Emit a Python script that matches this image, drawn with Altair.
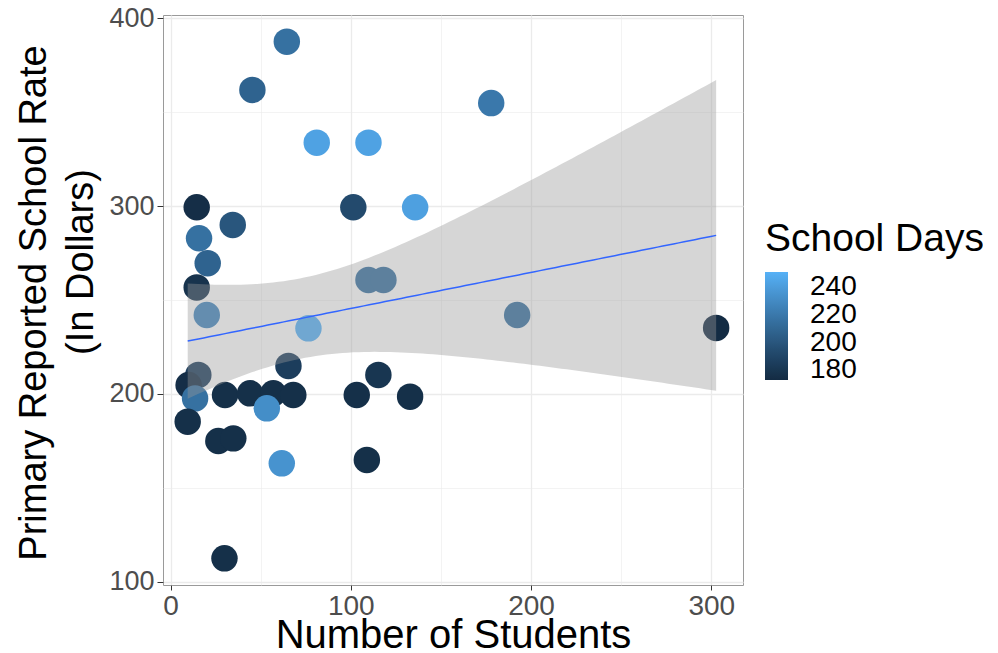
import altair as alt
import numpy as np
import pandas as pd

# ---- data ----
students = [64.5, 45.4, 81.1, 109.8, 14.5, 101.4, 135.7, 34.5, 15.8, 20.6,
            14.5, 109.8, 118.1, 20.1, 76.5, 65.4, 15.4, 10.0, 13.6, 30.2,
            44.1, 57.0, 68.1, 53.4, 103.3, 115.3, 132.9, 9.5, 26.5, 34.8,
            61.7, 108.9, 29.9, 177.9, 192.3, 302.7]
rate = [387.6, 361.9, 333.8, 333.8, 299.4, 299.4, 299.4, 290.0, 282.9, 269.6,
        256.7, 260.7, 260.7, 242.0, 234.9, 214.9, 210.1, 204.7, 197.6, 199.4,
        200.3, 200.3, 199.4, 192.3, 199.4, 210.1, 198.5, 185.2, 174.9, 176.3,
        163.0, 164.8, 112.4, 354.9, 242.0, 235.1]
days = [216, 208, 243, 243, 175, 193, 242, 200, 216, 208,
        178, 216, 216, 228, 251, 185, 185, 175, 216, 176,
        176, 176, 176, 232, 176, 180, 176, 176, 176, 176,
        235, 176, 176, 220, 216, 173]

x_ticks = [0, 50, 100, 150, 200, 250, 300]
y_ticks = [100, 150, 200, 250, 300, 350, 400]
legend_ticks = [180, 200, 220, 240]

points = pd.DataFrame({"students": students, "rate": rate, "days": days})

# ---- linear fit with 95% confidence band (like geom_smooth(method="lm")) ----
xv = np.array(students)
yv = np.array(rate)
n = len(xv)
b1, b0 = np.polyfit(xv, yv, 1)
xs = np.linspace(xv.min(), xv.max(), 100)
fit = b0 + b1 * xs
resid = yv - (b0 + b1 * xv)
s = np.sqrt((resid ** 2).sum() / (n - 2))
se = s * np.sqrt(1 / n + (xs - xv.mean()) ** 2 / ((xv - xv.mean()) ** 2).sum())
T975 = 2.032  # t quantile, df = 34
smooth = pd.DataFrame({"students": xs, "rate": fit,
                       "lo": fit - T975 * se, "hi": fit + T975 * se})

FONT = "Liberation Sans"

xscale = alt.Scale(domain=[-4.2, 317.6], nice=False, zero=False)
yscale = alt.Scale(domain=[98.2, 401.8], nice=False, zero=False)

grid_w = {"condition": {"test": "datum.value % 100 === 0", "value": 1.3}, "value": 0.6}
tick_op = {"condition": {"test": "datum.value % 100 === 0", "value": 1}, "value": 0}

x_axis = alt.Axis(
    values=x_ticks, labelExpr="datum.value % 100 === 0 ? datum.label : ''",
    grid=True, gridColor="#EBEBEB", gridWidth=grid_w, tickOpacity=tick_op,
    tickSize=5, tickColor="#333333", tickWidth=1, domain=False,
    labelFontSize=28, labelColor="#4D4D4D", labelPadding=2, labelFlush=False,
    labelOverlap=False, labelFont=FONT,
    titleFontSize=40, titleFontWeight="normal", titleColor="black", titleFont=FONT,
    titleBaseline="alphabetic", titleY=62,
)
y_axis = alt.Axis(
    values=y_ticks, labelExpr="datum.value % 100 === 0 ? datum.label : ''",
    grid=True, gridColor="#EBEBEB", gridWidth=grid_w, tickOpacity=tick_op,
    tickSize=6, tickColor="#333333", tickWidth=1, domain=False,
    labelFontSize=27, labelColor="#4D4D4D", labelPadding=3, labelFlush=False,
    labelOverlap=False, labelFont=FONT,
    titleFontSize=38, titleFontWeight="normal", titleColor="black", titleFont=FONT,
    titleBaseline="alphabetic", titleAlign="center", titleAngle=270,
    titleX=-118, titleY=287.5,
)

x_title = "Number of Students"
y_title = "Primary Reported School Rate"
y_title_line2 = "(In Dollars)"

pts = alt.Chart(points).mark_circle(size=700, opacity=1).encode(
    x=alt.X("students:Q", scale=xscale, axis=x_axis, title=x_title),
    y=alt.Y("rate:Q", scale=yscale, axis=y_axis, title=y_title),
    color=alt.Color(
        "days:Q",
        scale=alt.Scale(domain=[173, 251], range=["#132B43", "#56B1F7"], interpolate="lab"),
        legend=alt.Legend(
            title="School Days", values=legend_ticks, orient="none",
            legendX=602, legendY=205, direction="vertical",
            gradientLength=108, gradientThickness=23, gradientStrokeWidth=0,
            labelFontSize=28, labelColor="black", labelOffset=22, labelOverlap=False,
            labelFont=FONT, titleFont=FONT, titleLimit=400,
            titleFontSize=39, titleFontWeight="normal", titleColor="black",
            titlePadding=13, padding=0,
        ),
    ),
)

band = alt.Chart(smooth).mark_area(color="#999999", opacity=0.4).encode(
    x=alt.X("students:Q", scale=xscale, axis=x_axis, title=x_title),
    y=alt.Y("lo:Q", scale=yscale, axis=y_axis, title=y_title),
    y2="hi:Q",
)

line = alt.Chart(smooth).mark_line(color="#3366FF", strokeWidth=1.5).encode(
    x=alt.X("students:Q", scale=xscale, axis=x_axis, title=x_title),
    y=alt.Y("rate:Q", scale=yscale, axis=y_axis, title=y_title),
)

# second line of the y-axis title (placed like the reference, off-centre)
title2 = alt.Chart(pd.DataFrame({"t": [y_title_line2]})).mark_text(
    angle=270, align="center", baseline="alphabetic", fontSize=38,
    font=FONT, color="black", clip=False,
).encode(text="t:N", x=alt.value(-70), y=alt.value(247))

chart = (
    alt.layer(pts, band, line, title2)
    .properties(
        width=580, height=570,
        autosize=alt.AutoSizeParams(type="none"),
        padding={"left": 155, "top": 7, "right": 240, "bottom": 66},
        background="white",
    )
    .configure(font=FONT)
    .configure_view(stroke="#9A9A9A", strokeWidth=1)
)

chart.save("out.html", embed_options={"renderer": "svg", "actions": False})
